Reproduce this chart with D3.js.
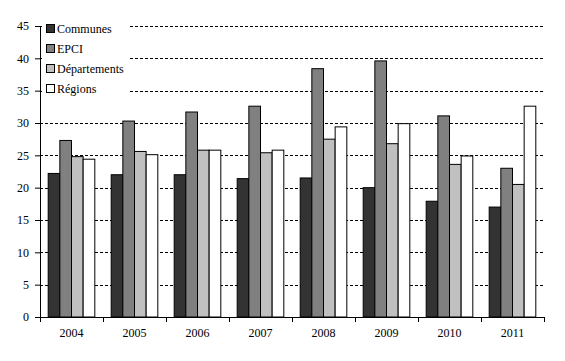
<!DOCTYPE html>
<html><head><meta charset="utf-8">
<script src="https://cdn.jsdelivr.net/npm/d3@7"></script>
<style>body{margin:0;background:#fff}svg{display:block}</style>
</head><body>
<script>
const years = ["2004","2005","2006","2007","2008","2009","2010","2011"];
const seriesNames = ["Communes","EPCI","Départements","Régions"];
const communes = [22.2,22.0,22.0,21.4,21.5,20.0,17.9,17.0];
const epci = [27.3,30.3,31.7,32.6,38.4,39.6,31.1,23.0];
const departements = [24.8,25.6,25.8,25.4,27.5,26.8,23.6,20.5];
const regions = [24.4,25.1,25.8,25.8,29.4,29.9,24.9,32.6];
const colors = ["#333333","#808080","#c0c0c0","#ffffff"];
const yTicks = [0,5,10,15,20,25,30,35,40,45];
const seriesValues = [communes, epci, departements, regions];

const FONT = "'Times New Roman','Liberation Serif',serif";
const W=565,H=361;
const svg=d3.select("body").append("svg").attr("width",W).attr("height",H)
  .attr("font-family",FONT);
const x0=d3.scaleBand().domain(years).range([40,544]).paddingInner(0.26).paddingOuter(0.13);
const x1=d3.scaleBand().domain(seriesNames).range([0,x0.bandwidth()]);
const y=d3.scaleLinear().domain([0,45]).range([317,26]);

// gridlines
svg.append("g").selectAll("line").data(yTicks.filter(d=>d>0)).join("line")
  .attr("x1",40).attr("x2",544).attr("y1",d=>Math.round(y(d))+0.5).attr("y2",d=>Math.round(y(d))+0.5)
  .attr("stroke","#000").attr("stroke-width",1).attr("stroke-dasharray","3,2");

// bars
const g=svg.append("g");
years.forEach((yr,i)=>{
  seriesNames.forEach((s,j)=>{
    const v=seriesValues[j][i];
    g.append("rect")
      .attr("x",x0(yr)+x1(s)).attr("width",x1.bandwidth())
      .attr("y",y(v)).attr("height",y(0)-y(v))
      .attr("fill",colors[j]).attr("stroke","#000").attr("stroke-width",1);
  });
});

// y axis
const ya=svg.append("g").attr("transform","translate(40,0)")
  .call(d3.axisLeft(y).tickValues(yTicks).tickSize(5).tickPadding(6));
ya.attr("font-family",FONT);
ya.select(".domain").attr("d","M0.5,"+y(45)+"V"+y(0));
ya.selectAll("text").attr("font-size","12px").attr("fill","#000").attr("font-family",FONT);

// x axis
const xa=svg.append("g").attr("transform","translate(0,"+y(0)+")");
xa.append("line").attr("x1",40).attr("x2",544).attr("y1",0.5).attr("y2",0.5).attr("stroke","#000");
const bounds=years.map(d=>x0(d)-x0.step()*0.13).concat([544]);
xa.selectAll("line.t").data(bounds).join("line").attr("class","t")
  .attr("x1",d=>Math.round(d)+0.5).attr("x2",d=>Math.round(d)+0.5).attr("y1",0).attr("y2",5).attr("stroke","#000");
xa.selectAll("text").data(years).join("text")
  .attr("x",d=>x0(d)+x0.bandwidth()/2).attr("y",20).attr("text-anchor","middle")
  .attr("font-size","12px").attr("fill","#000").attr("font-family",FONT).text(d=>d);

// legend
const lg=svg.append("g");
lg.append("rect").attr("x",42).attr("y",18).attr("width",87).attr("height",82).attr("fill","#fff");
seriesNames.forEach((s,j)=>{
  const cy=29+j*20;
  lg.append("rect").attr("x",46.5).attr("y",cy-4.5).attr("width",8).attr("height",8)
    .attr("fill",colors[j]).attr("stroke","#000");
  lg.append("text").attr("x",57).attr("y",cy+4).attr("font-size","12px").attr("fill","#000")
    .attr("font-family",FONT).text(s);
});
</script>
</body></html>
